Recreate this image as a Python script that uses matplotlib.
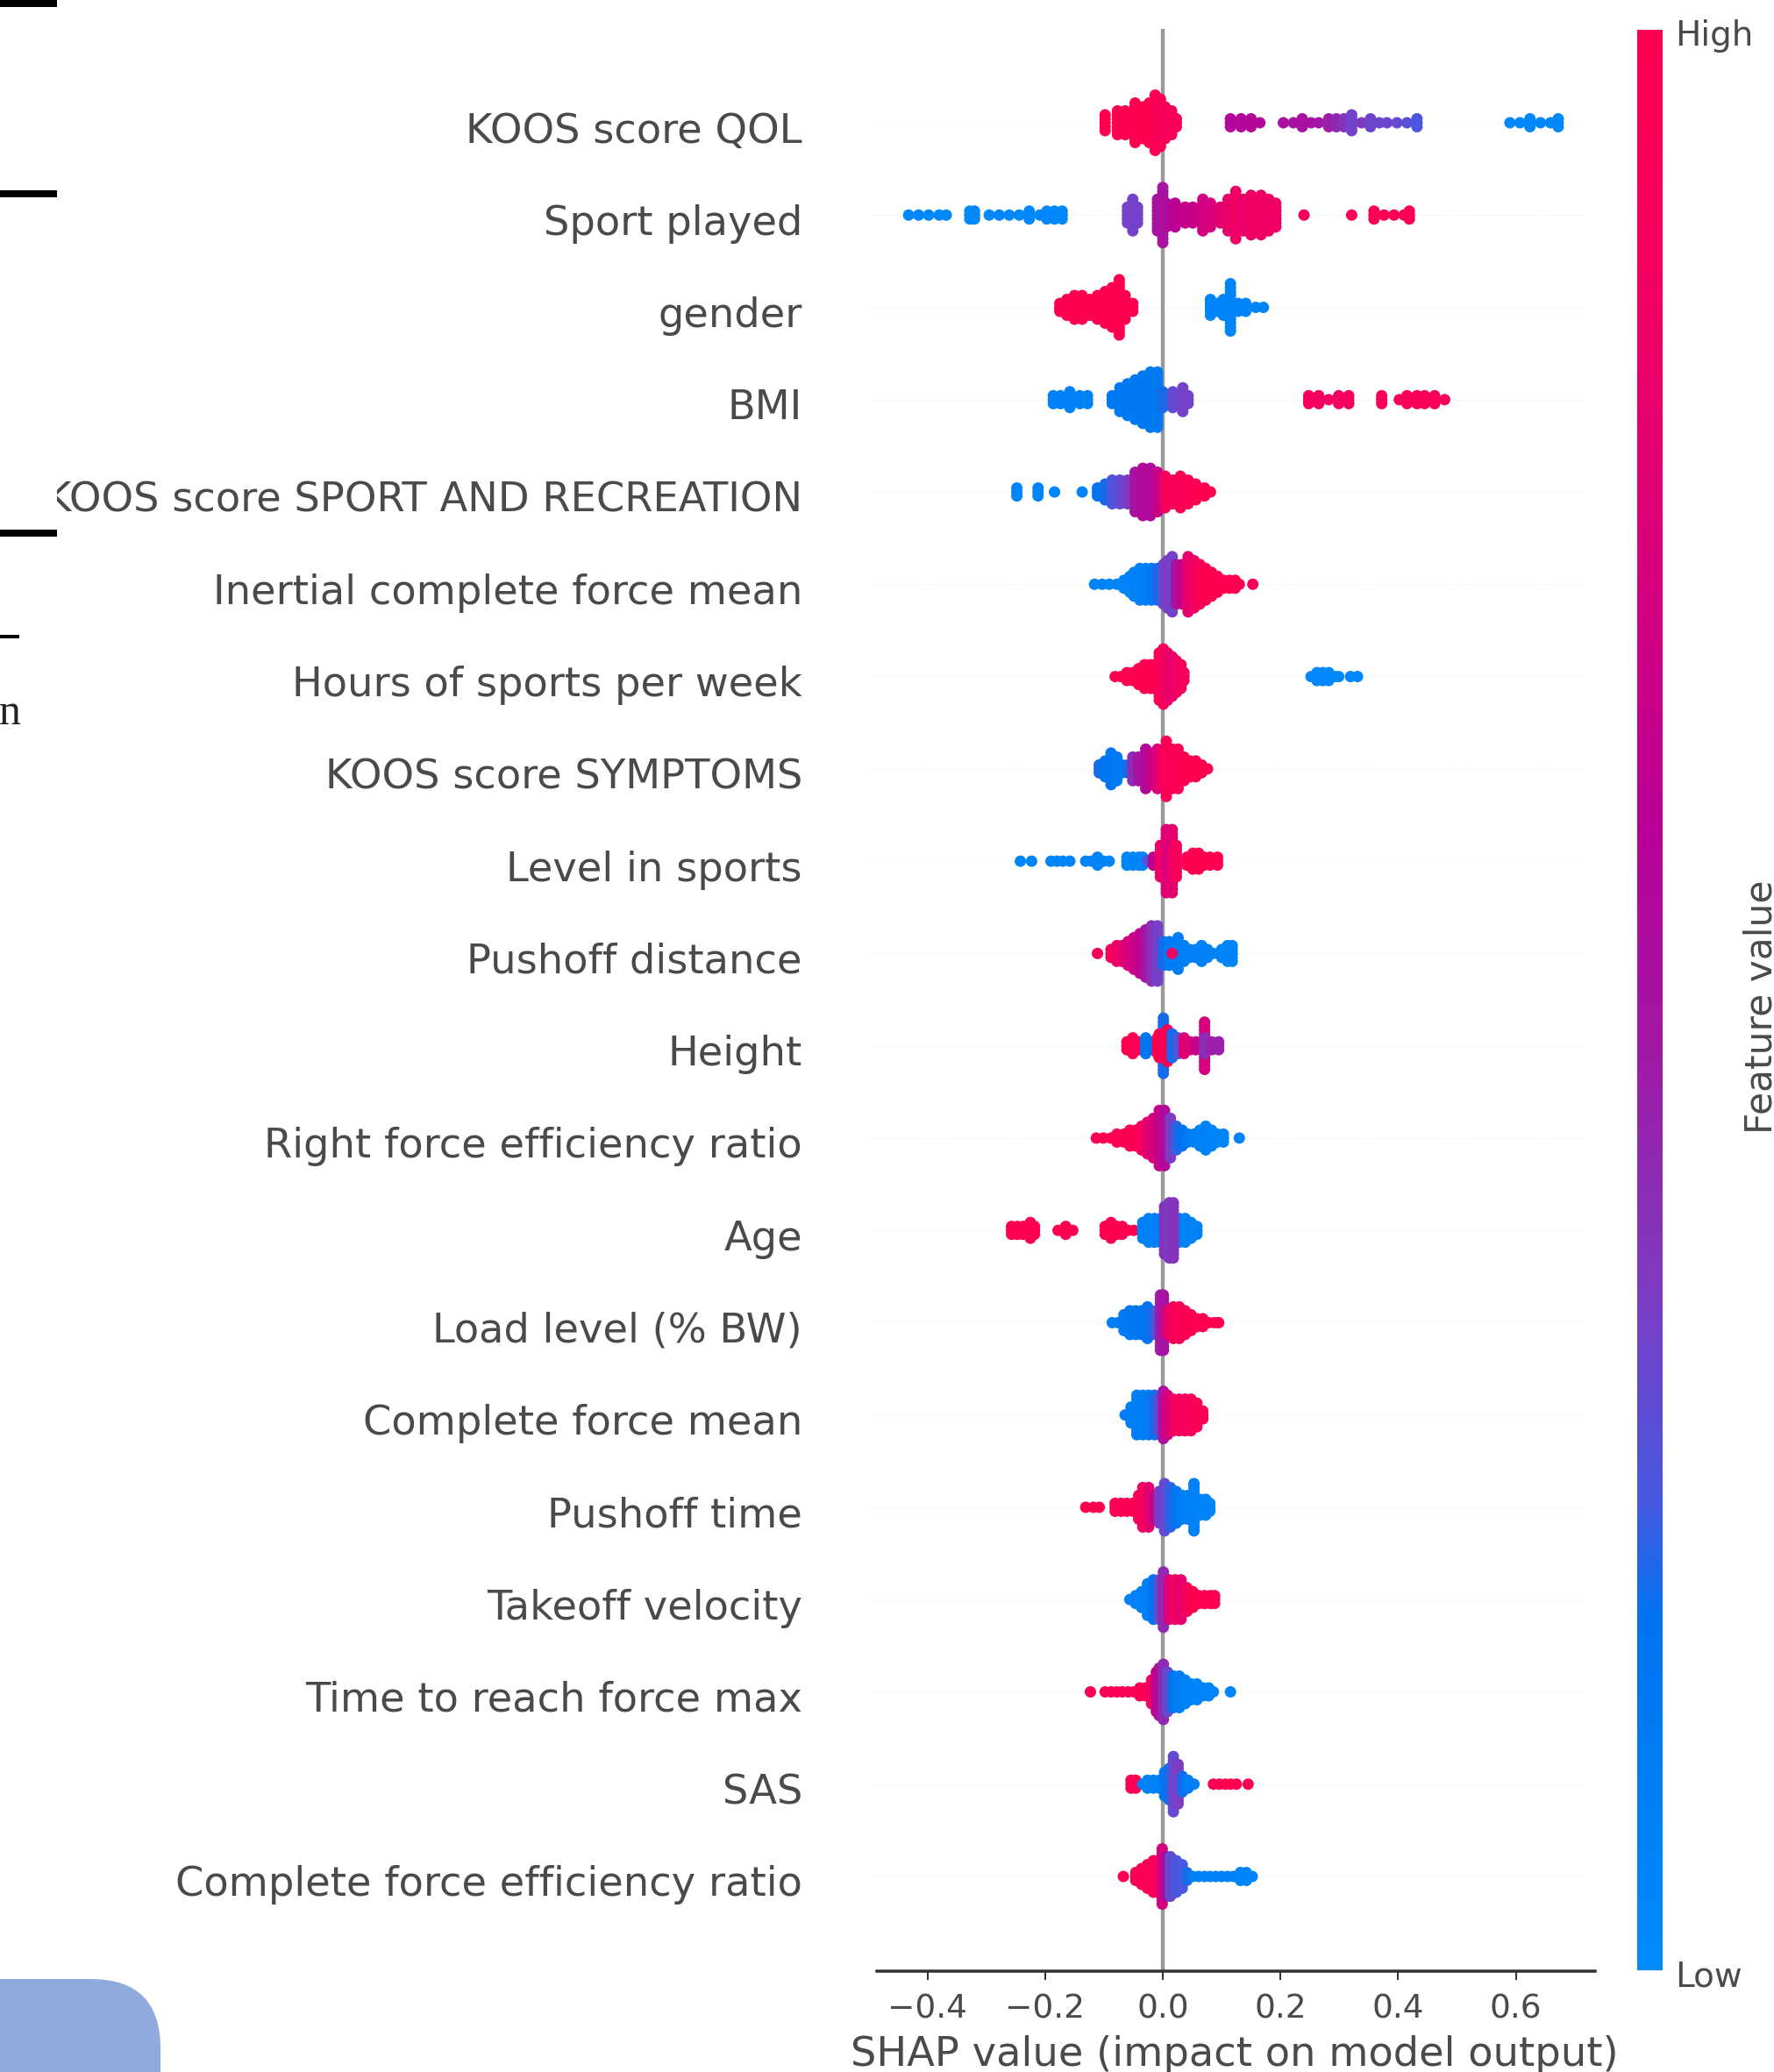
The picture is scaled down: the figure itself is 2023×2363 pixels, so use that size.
import numpy as np
import matplotlib
matplotlib.use("Agg")
import matplotlib.pyplot as plt
from matplotlib.colors import LinearSegmentedColormap, Normalize
from matplotlib.cm import ScalarMappable
from matplotlib.patches import Rectangle, FancyBboxPatch
from matplotlib.transforms import Affine2D, ScaledTranslation

features = ["KOOS score QOL", "Sport played", "gender", "BMI", "KOOS score SPORT AND RECREATION",
            "Inertial complete force mean", "Hours of sports per week", "KOOS score SYMPTOMS",
            "Level in sports", "Pushoff distance", "Height", "Right force efficiency ratio", "Age",
            "Load level (% BW)", "Complete force mean", "Pushoff time", "Takeoff velocity",
            "Time to reach force max", "SAS", "Complete force efficiency ratio"]
xticks = [-0.4, -0.2, 0.0, 0.2, 0.4, 0.6]

# each feature: SHAP position of a swarm column, stack half-height (dots), feature value
qol_x = [-.098,-.077,-.064,-.047,-.034,-.023,-.013,-.004,.004,.015,.023,.115,.133,.15,.165,.205,.222,.237,.252,.265,.282,.295,.308,.321,.338,.353,.368,.381,.398,.415,.432,.59,.607,.624,.642,.659,.672]
qol_n = [2,3,3,5,4,5,7,6,4,3,1,1,1,1,0,0,0,1,0,0,1,1,1,2,0,1,0,0,0,0,1,0,0,1,0,0,1]
qol_c = [1,1,1,1,1,.98,.97,.95,.93,.93,.93,.56,.56,.56,.56,.5,.5,.5,.5,.48,.45,.42,.38,.33,.36,.32,.32,.32,.3,.28,.25,.03,.03,.03,.03,.03,.03]

sport_x = [-.432,-.415,-.398,-.38,-.368,-.328,-.32,-.295,-.278,-.261,-.244,-.227,-.209,-.197,-.184,-.171,-.06,-.051,-.043,-.009,0,.006,.021,.038,.051,.068,.081,.098,.111,.124,.137,.15,.167,.18,.192,.24,.321,.359,.376,.393,.41,.419]
sport_n = [0,0,0,0,0,1,1,0,0,0,0,1,0,1,1,1,2,4,2,4,7,3,3,2,2,4,3,2,4,6,4,5,5,4,3,0,0,1,0,0,0,1]
sport_c = [.03,.03,.03,.03,.03,.03,.03,.03,.03,.03,.03,.03,.03,.03,.03,.03,.33,.33,.33,.5,.5,.55,.6,.65,.65,.7,.72,.78,.82,.85,.82,.85,.85,.85,.85,.92,.95,.97,.97,.97,.97,.97]

gender_x = [-.175,-.163,-.15,-.137,-.124,-.111,-.098,-.086,-.074,-.064,-.051,.081,.094,.103,.115,.128,.141,.158,.171]
gender_n = [1,2,3,3,2,3,4,5,7,3,1,2,1,2,6,1,1,0,0]
gender_c = [1,1,1,1,1,1,1,1,1,1,1,.05,.05,.05,.05,.05,.05,.05,.05]

bmi_x = [-.186,-.174,-.158,-.141,-.128,-.086,-.073,-.06,-.047,-.034,-.021,-.009,0,.017,.034,.043,.248,.265,.282,.299,.316,.372,.402,.415,.432,.445,.462,.479]
bmi_n = [1,1,2,1,1,1,3,4,5,6,7,7,2,2,3,1,1,1,0,1,1,1,0,1,1,1,1,0]
bmi_c = [.08,.08,.08,.08,.08,.13,.13,.13,.13,.13,.13,.14,.2,.3,.33,.33,.88,.88,.88,.88,.88,.93,.93,.93,.93,.93,.93,.93]

sportrec_x = [-.248,-.212,-.184,-.137,-.111,-.098,-.086,-.073,-.06,-.047,-.034,-.021,-.009,.004,.017,.03,.043,.056,.071,.081]
sportrec_n = [1,1,0,0,1,2,3,3,3,5,6,6,5,4,3,4,3,2,1,0]
sportrec_c = [.05,.05,.05,.05,.15,.2,.25,.3,.35,.5,.55,.55,.65,.9,.95,.95,.95,.97,1,1]

inertial_x = [-.116,-.103,-.091,-.078,-.066,-.056,-.049,-.039,-.029,-.019,-.009,.001,.008,.016,.023,.033,.043,.053,.063,.073,.083,.093,.103,.113,.123,.13,.153]
inertial_n = [0,0,0,0,1,2,3,4,4,4,4,5,6,7,5,5,7,6,5,4,3,2,1,1,1,0,0]
inertial_c = [.05,.05,.05,.05,.05,.05,.07,.08,.1,.12,.2,.3,.35,.33,.5,.65,.8,.85,.95,.98,1,1,1,1,1,1,.93]

hours_x = [-.081,-.071,-.061,-.051,-.041,-.031,-.021,-.014,-.006,.001,.008,.016,.023,.031,.036,.252,.262,.272,.282,.292,.299,.319,.331]
hours_n = [0,0,1,1,2,3,3,3,6,7,6,5,4,3,1,0,1,1,1,0,0,0,0]
hours_c = [1,1,1,1,1,1,1,1,.97,.95,.85,.8,.85,.9,.9,.03,.03,.03,.03,.03,.03,.03,.03]

symptoms_x = [-.108,-.098,-.088,-.078,-.069,-.059,-.051,-.041,-.029,-.019,-.009,-.001,.006,.016,.026,.036,.046,.056,.066,.076]
symptoms_n = [1,2,4,3,1,1,3,3,5,4,5,4,7,5,5,3,2,2,1,0]
symptoms_c = [.2,.17,.15,.12,.12,.2,.4,.5,.55,.65,.75,.85,.95,.95,.97,1,1,1,1,1]

level_x = [-.242,-.223,-.19,-.18,-.17,-.158,-.131,-.121,-.111,-.101,-.091,-.061,-.051,-.041,-.034,-.026,-.016,-.004,.006,.016,.023,.041,.051,.061,.07,.08,.093]
level_n = [0,0,0,0,0,0,0,0,1,0,0,1,1,1,1,0,1,4,8,8,4,1,2,2,1,1,1]
level_c = [.05,.05,.05,.05,.05,.05,.05,.05,.05,.05,.05,.05,.05,.05,.05,.25,.6,.85,.75,.8,.92,1,1,1,1,1,1]

pushdist_x = [-.111,-.088,-.078,-.069,-.059,-.049,-.039,-.029,-.019,-.009,.001,.011,.026,.036,.046,.056,.066,.076,.086,.1,.11,.118,.016]
pushdist_n = [0,1,2,2,3,4,5,6,7,7,3,3,4,2,1,1,2,1,0,1,2,2,0]
pushdist_c = [.92,.9,.85,.8,.72,.68,.62,.5,.4,.33,.2,.12,.1,.1,.08,.08,.07,.07,.06,.05,.05,.05,.85]

height_x = [-.061,-.051,-.041,-.029,-.019,.001,-.009,-.006,.008,.016,.026,.036,.046,.056,.071,.071,.083,.095]
height_n = [1,2,1,2,1,7,2,3,4,3,2,2,1,1,6,2,1,1]
height_c = [1,1,.95,.15,.18,.2,.98,.97,.98,.2,.25,.75,.75,.65,.72,.4,.45,.45]

rightratio_x = [-.113,-.101,-.088,-.078,-.066,-.056,-.046,-.036,-.026,-.016,-.006,.003,.013,.023,.033,.043,.053,.063,.073,.083,.093,.103,.13]
rightratio_n = [0,0,0,1,1,2,2,3,4,5,7,7,5,3,2,1,1,2,3,2,1,1,0]
rightratio_c = [1,1,1,1,1,.98,.97,.92,.8,.72,.65,.55,.35,.22,.18,.12,.1,.08,.06,.05,.05,.05,.05]

age_x = [-.257,-.247,-.237,-.225,-.218,-.178,-.165,-.153,-.098,-.088,-.078,-.069,-.059,-.049,-.034,-.024,-.014,-.004,.028,.038,.048,.058,.003,.011,.018]
age_n = [1,1,1,2,1,0,1,0,1,2,1,1,0,0,2,3,3,3,3,3,2,1,6,7,7]
age_c = [1,1,1,1,1,1,1,1,1,1,1,1,1,1,.08,.08,.08,.08,.08,.08,.08,.08,.38,.35,.38]

load_x = [-.086,-.076,-.066,-.056,-.046,-.036,-.026,-.019,-.011,-.004,.001,.008,.018,.028,.038,.048,.058,.068,.078,.088,.095]
load_n = [0,0,2,3,3,3,4,3,3,7,7,3,4,4,3,2,1,1,0,0,0]
load_c = [.1,.1,.12,.13,.14,.15,.16,.2,.25,.45,.5,.8,.9,.95,.97,1,1,1,1,1,1]

cfmean_x = [-.064,-.054,-.044,-.034,-.024,-.014,-.006,.001,.008,.018,.028,.038,.048,.058,.068]
cfmean_n = [0,2,5,5,5,5,4,6,5,4,4,4,4,3,1]
cfmean_c = [.1,.1,.1,.1,.12,.2,.3,.5,.7,.85,.88,.92,.92,.95,.95]

pushtime_x = [-.131,-.118,-.108,-.081,-.071,-.061,-.051,-.041,-.034,-.024,-.014,-.006,.003,.013,.023,.033,.043,.053,.063,.073,.08]
pushtime_n = [0,0,0,1,1,1,1,3,5,5,3,4,6,5,4,3,3,6,2,2,1]
pushtime_c = [1,1,1,.98,.98,.98,.98,.95,.9,.8,.65,.35,.3,.22,.15,.1,.08,.07,.06,.05,.05]

takeoff_x = [-.056,-.046,-.036,-.026,-.016,-.006,.001,.011,.021,.031,.041,.051,.061,.071,.081,.088]
takeoff_n = [0,1,2,4,5,5,7,5,5,5,3,2,1,1,1,1]
takeoff_c = [.08,.08,.08,.1,.15,.3,.42,.75,.88,.8,.9,1,1,1,1,1]

timemax_x = [-.123,-.098,-.088,-.078,-.069,-.059,-.049,-.039,-.029,-.019,-.011,-.006,.001,.008,.018,.028,.038,.048,.058,.068,.078,.086,.115]
timemax_n = [0,0,0,0,0,0,0,1,1,3,5,6,7,5,4,4,3,2,2,1,1,0,0]
timemax_c = [.97,.98,.98,.98,.98,.98,.98,.98,.95,.88,.65,.55,.42,.3,.15,.1,.07,.05,.05,.05,.05,.05,.05]

sas_x = [-.054,-.046,-.034,-.026,-.016,-.006,.003,.011,.018,.026,.033,.043,.053,.086,.096,.106,.115,.125,.145]
sas_n = [1,1,0,1,1,1,3,4,7,5,2,1,0,0,0,0,0,0,0]
sas_c = [.97,.97,.07,.07,.07,.07,.15,.2,.3,.35,.2,.1,.1,1,1,1,1,1,1]

cfratio_x = [-.067,-.046,-.036,-.026,-.016,-.009,-.001,.006,.013,.023,.033,.041,.051,.061,.071,.08,.09,.1,.11,.12,.132,.142,.152]
cfratio_n = [0,1,2,3,4,4,7,5,5,4,3,1,0,0,0,0,0,0,0,0,1,1,0]
cfratio_c = [.95,.97,.97,.97,.97,.9,.7,.55,.3,.25,.25,.2,.08,.08,.08,.08,.08,.08,.08,.08,.05,.05,.05]

columns = [(qol_x, qol_n, qol_c), (sport_x, sport_n, sport_c), (gender_x, gender_n, gender_c),
           (bmi_x, bmi_n, bmi_c), (sportrec_x, sportrec_n, sportrec_c), (inertial_x, inertial_n, inertial_c),
           (hours_x, hours_n, hours_c), (symptoms_x, symptoms_n, symptoms_c), (level_x, level_n, level_c),
           (pushdist_x, pushdist_n, pushdist_c), (height_x, height_n, height_c),
           (rightratio_x, rightratio_n, rightratio_c), (age_x, age_n, age_c), (load_x, load_n, load_c),
           (cfmean_x, cfmean_n, cfmean_c), (pushtime_x, pushtime_n, pushtime_c), (takeoff_x, takeoff_n, takeoff_c),
           (timemax_x, timemax_n, timemax_c), (sas_x, sas_n, sas_c), (cfratio_x, cfratio_n, cfratio_c)]

W, H = 2024, 2363
DPI = 100
TXT = "#4a4a4a"
PT = 72 / DPI  # points per pixel

stops = [(0, (0, 139, 251)), (.18, (0, 115, 240)), (.24, (70, 90, 225)), (.35, (125, 60, 195)),
         (.47, (160, 25, 165)), (.59, (185, 0, 150)), (.72, (215, 0, 125)), (.85, (240, 0, 100)), (1, (255, 0, 81))]
cmap = LinearSegmentedColormap.from_list("red_blue", [(p, tuple(v / 255 for v in c)) for p, c in stops])

fig = plt.figure(figsize=(W / DPI, H / DPI), dpi=DPI, facecolor="white")
pix = Affine2D().scale(1 / W, -1 / H).translate(0, 1) + fig.transFigure


def rect_axes(x0, y0, x1, y1):
    return fig.add_axes([x0 / W, 1 - y1 / H, (x1 - x0) / W, (y1 - y0) / H])


ax = rect_axes(1000, 33, 1819, 2248)
ax.set_xlim((1000 - 1326) / 671, (1819 - 1326) / 671)
row_px = 105.26
ax.set_ylim(-(2248 - 2140) / row_px, 19 + (140 - 33) / row_px)
n_feat = len(features)
STEP = 4.5 / row_px

for i in range(n_feat):
    ax.plot([-0.498, 0.718], [n_feat - 1 - i] * 2, color="#efefef", lw=1.0, ls=(0, (1, 2)), zorder=0, clip_on=False)
ax.axvline(0, color="#999999", lw=4.4 * PT, zorder=1)

for i, (xs, ns, cs) in enumerate(columns):
    row = n_feat - 1 - i
    px_, py_, pc_ = [], [], []
    for x, n, c in zip(xs, ns, cs):
        for k in range(-n, n + 1):
            px_.append(x)
            py_.append(row + k * STEP)
            pc_.append(c)
    ax.scatter(px_, py_, c=pc_, cmap=cmap, vmin=0, vmax=1, s=(13 * PT) ** 2, linewidths=0, zorder=3, clip_on=False)

for s in ("top", "left", "right"):
    ax.spines[s].set_visible(False)
ax.spines["bottom"].set_linewidth(3.5 * PT)
ax.spines["bottom"].set_color("#333333")
ax.set_xticks(xticks)
ax.tick_params(axis="x", length=10 * PT, width=2 * PT, color="#333333", labelsize=27, labelcolor=TXT, pad=16 * PT)
ax.set_yticks(range(n_feat))
ax.set_yticklabels(features[::-1], fontsize=33.4, color=TXT)
ax.tick_params(axis="y", length=0, pad=85 * PT)
shift = ScaledTranslation(0, -5 / DPI, fig.dpi_scale_trans)
for lab in ax.get_yticklabels():
    lab.set_transform(lab.get_transform() + shift)

fig.text(1408, 2344, "SHAP value (impact on model output)", transform=pix, fontsize=33.4, color=TXT,
         ha="center", va="center")

cax = rect_axes(1867, 34, 1896, 2247)
cb = fig.colorbar(ScalarMappable(Normalize(0, 1), cmap), cax=cax, ticks=[0, 1])
cb.set_ticklabels(["Low", "High"])
cb.outline.set_visible(False)
cax.tick_params(length=0, labelsize=28, labelcolor=TXT, pad=14 * PT)
lift = ScaledTranslation(0, -3.5 / DPI, fig.dpi_scale_trans)
for lab in cax.get_yticklabels():
    lab.set_transform(lab.get_transform() + lift)
fig.text(2030, 1148, "Feature value", transform=pix, fontsize=30.5, color=TXT, rotation=90, ha="right", va="center")

# page remnants around the chart
fig.add_artist(Rectangle((0, 0), 65, H, transform=pix, fc="white", ec="none", zorder=5))
for y0, y1, x1 in [(0, 8, 65), (217, 225, 65), (604, 612, 65), (724, 728, 22)]:
    fig.add_artist(Rectangle((0, y0), x1, y1 - y0, transform=pix, fc="black", ec="none", zorder=6))
fig.text(24, 826, "n", transform=pix, fontsize=36, family="Liberation Serif", color="#222222", ha="right", va="baseline", zorder=6)
fig.add_artist(FancyBboxPatch((-200, 2257), 383, 400, boxstyle="round,pad=0,rounding_size=79", transform=pix,
                              fc="#8faadc", ec="none", zorder=6))

fig.savefig("out.png", dpi=DPI, facecolor="white")
